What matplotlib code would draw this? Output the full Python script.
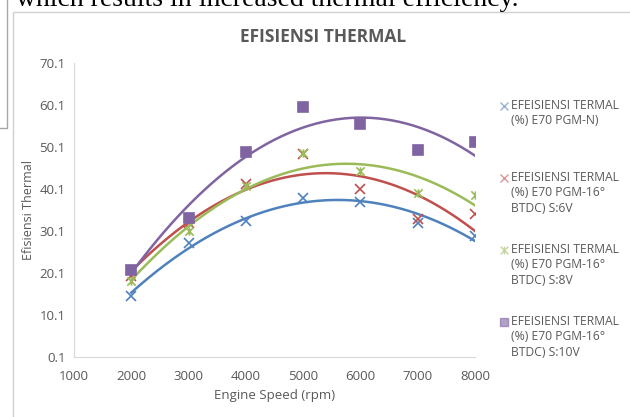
import numpy as np
import matplotlib.pyplot as plt
from matplotlib.lines import Line2D
from matplotlib.path import Path

# Data
rpm = [2000, 3000, 4000, 5000, 6000, 7000, 8000]
ef_n = [14.6, 27.2, 32.6, 38.0, 37.0, 32.1, 29.0]
ef_6v = [19.4, 31.9, 41.3, 48.5, 40.0, 32.9, 34.1]
ef_8v = [18.2, 30.2, 40.7, 48.6, 44.4, 39.1, 38.7]
ef_10v = [20.7, 33.2, 49.0, 59.7, 55.6, 49.4, 51.2]

labels = [
    "EFEISIENSI TERMAL\n(%) E70 PGM-N)",
    "EFEISIENSI TERMAL\n(%) E70 PGM-16°\nBTDC) S:6V",
    "EFEISIENSI TERMAL\n(%) E70 PGM-16°\nBTDC) S:8V",
    "EFEISIENSI TERMAL\n(%) E70 PGM-16°\nBTDC) S:10V",
]
warna = ["#4F81BD", "#C0504D", "#9BBB59", "#8064A2"]

# marker bintang ala Excel: x dengan garis tegak
bintang = Path([(-1, -1), (1, 1), (-1, 1), (1, -1), (0, -1), (0, 1)],
               [Path.MOVETO, Path.LINETO, Path.MOVETO, Path.LINETO,
                Path.MOVETO, Path.LINETO])
marker = ["x", "x", bintang, "s"]
series = [ef_n, ef_6v, ef_8v, ef_10v]

plt.rcParams['font.family'] = ['Open Sans', 'DejaVu Sans']
abu = "#595959"

fig = plt.figure(figsize=(6.3, 4.17), dpi=100)
W, H = 630, 417

# potongan teks dokumen di atas dan garis bingkai
fig.text(16 / W, 1 - 6 / H, "which results in increased thermal efficiency.",
         family="Liberation Serif", fontsize=20, color="black",
         va="baseline", ha="left")
fig.add_artist(Line2D([13 / W, 13 / W, 1], [0, 1 - 12 / H, 1 - 12 / H],
                      color="#d0d0d0", lw=1, transform=fig.transFigure))
fig.add_artist(Line2D([7 / W, 7 / W, 0], [1, 1 - 128 / H, 1 - 128 / H],
                      color="#a6a6a6", lw=1, transform=fig.transFigure))

ax = fig.add_axes([74 / W, 1 - 357 / H, (475 - 74) / W, (357 - 63) / H])

xs = np.linspace(2000, 8000, 200)
for y, c, m in zip(series, warna, marker):
    if isinstance(m, str) and m == "s":
        ms = 6.5
    elif isinstance(m, Path):
        ms = 6
    else:
        ms = 7
    ax.plot(rpm, y, linestyle="none", marker=m, color=c, ms=ms, mew=1.2)
    koef = np.polyfit(rpm, y, 2)
    ax.plot(xs, np.polyval(koef, xs), color=c, lw=1.8)

ax.set_xlim(1000, 8000)
ax.set_ylim(0.1, 70.1)
ax.set_xticks(range(1000, 8001, 1000))
ax.set_yticks(np.arange(0.1, 70.2, 10))
ax.set_yticklabels([f"{v:.1f}" for v in np.arange(0.1, 70.2, 10)])
ax.tick_params(length=0, colors=abu, labelsize=9.5)
ax.tick_params(axis="x", pad=9)
ax.tick_params(axis="y", pad=6)
for s in ["top", "right"]:
    ax.spines[s].set_visible(False)
for s in ["left", "bottom"]:
    ax.spines[s].set_color("#d9d9d9")
ax.set_xlabel("Engine Speed (rpm)", color=abu, fontsize=9.5, labelpad=5)
ax.set_ylabel("Efisiensi Thermal", color=abu, fontsize=9, labelpad=3)

fig.text(323 / W, 1 - 37 / H, "EFISIENSI THERMAL", ha="center", va="center",
         fontsize=12.5, fontweight="bold", color=abu)

# legenda manual
ypos = [106, 178, 250, 322]
for yp, lab, c, m in zip(ypos, labels, warna, marker):
    fig.add_artist(Line2D([504 / W], [1 - yp / H], marker=m, color=c, alpha=0.6,
                          ms=6 if isinstance(m, str) else 5.5, mew=1,
                          linestyle="none", transform=fig.transFigure))
    fig.text(511 / W, 1 - (yp - 7) / H, lab, ha="left", va="top",
             fontsize=8.7, color=abu, linespacing=1.25)

fig.savefig("out.png", dpi=100)
